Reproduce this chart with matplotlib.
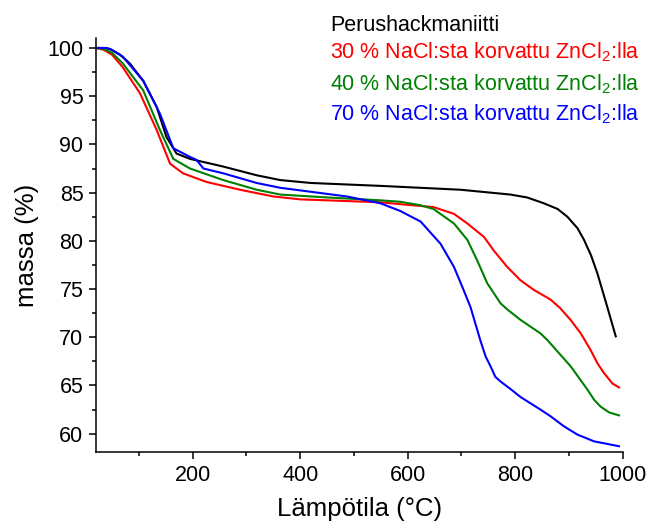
import matplotlib
matplotlib.use("Agg")
import matplotlib.pyplot as plt
from matplotlib.ticker import MultipleLocator

plt.rcParams['font.family'] = ['Liberation Sans', 'DejaVu Sans']
plt.rcParams['mathtext.fontset'] = 'custom'
plt.rcParams['mathtext.rm'] = 'Liberation Sans'
plt.rcParams['mathtext.default'] = 'regular'

# Data (temperature in °C, mass in %)
t_base = [20, 35, 46, 65, 83, 108, 133, 151, 170, 195, 257, 319, 363, 420, 549,
          698, 791, 822, 853, 879, 897, 916, 928, 941, 953, 962, 972, 987]
m_base = [100, 100, 99.9, 99.3, 98.4, 96.6, 93.9, 90.8, 89.05, 88.5, 87.7, 86.8,
          86.3, 86.0, 85.7, 85.3, 84.8, 84.5, 83.9, 83.3, 82.5, 81.3, 80.1, 78.5,
          76.6, 74.9, 73.0, 70.1]

t_30 = [20, 35, 50, 70, 102, 133, 158, 182, 226, 288, 350, 400, 549, 586, 648,
        686, 711, 742, 760, 785, 810, 835, 866, 884, 903, 922, 940, 953, 965, 981, 993]
m_30 = [100, 99.8, 99.3, 98.0, 95.3, 91.5, 88.0, 87.0, 86.1, 85.3, 84.6, 84.3,
        84.0, 83.8, 83.5, 82.8, 81.8, 80.4, 79.0, 77.3, 75.9, 74.9, 73.9, 73.0,
        71.8, 70.4, 68.7, 67.3, 66.3, 65.2, 64.8]

t_40 = [20, 35, 50, 70, 108, 139, 164, 195, 257, 319, 363, 450, 549, 586, 623,
        648, 686, 711, 729, 748, 773, 785, 810, 847, 860, 903, 934, 947, 959, 975, 993]
m_40 = [100, 99.9, 99.5, 98.4, 95.6, 91.5, 88.5, 87.5, 86.3, 85.3, 84.8, 84.5,
        84.2, 84.05, 83.7, 83.3, 81.8, 80.1, 78.0, 75.6, 73.5, 72.9, 71.8, 70.4,
        69.7, 67.0, 64.6, 63.5, 62.8, 62.2, 61.9]

t_70 = [20, 40, 50, 70, 108, 139, 164, 195, 207, 220, 257, 319, 363, 487, 549,
        586, 624, 661, 686, 704, 717, 735, 745, 754, 763, 773, 792, 810, 847, 866,
        891, 916, 947, 966, 993]
m_70 = [100, 100, 99.8, 99.1, 96.6, 93.2, 89.6, 88.7, 88.4, 87.5, 87.0, 86.0,
        85.5, 84.6, 83.9, 83.1, 82.0, 79.7, 77.3, 74.9, 73.1, 69.7, 68.0, 67.0,
        65.9, 65.4, 64.6, 63.8, 62.5, 61.8, 60.75, 59.9, 59.2, 59.0, 58.7]

labels = ["Perushackmaniitti",
          "30 % NaCl:sta korvattu ZnCl$_2$:lla",
          "40 % NaCl:sta korvattu ZnCl$_2$:lla",
          "70 % NaCl:sta korvattu ZnCl$_2$:lla"]
colors = ["#000000", "#FF0000", "#008000", "#0000FF"]

fig = plt.figure(figsize=(6.48, 5.25), dpi=100)
ax = fig.add_axes([0.148, 0.139, 0.813, 0.788])

series = [(t_base, m_base), (t_30, m_30), (t_40, m_40), (t_70, m_70)]
for (t, m), c in zip(series, colors):
    ax.plot(t, m, color=c, lw=1.5, solid_joinstyle='round')

ax.set_xlim(20, 1000)
ax.set_ylim(58.1, 101)
ax.xaxis.set_major_locator(MultipleLocator(200))
ax.xaxis.set_minor_locator(MultipleLocator(100))
ax.yaxis.set_major_locator(MultipleLocator(5))
ax.yaxis.set_minor_locator(MultipleLocator(2.5))
ax.spines['top'].set_visible(False)
ax.spines['right'].set_visible(False)
for s in ('left', 'bottom'):
    ax.spines[s].set_linewidth(1.1)
ax.tick_params(which='major', direction='out', length=5, width=1.1, labelsize=15.5, pad=4)
ax.tick_params(which='minor', direction='out', length=3, width=1.1)

ax.set_xlabel("Lämpötila (°C)", fontsize=18.5, labelpad=8)
ax.set_ylabel("massa (%)", fontsize=18.5, labelpad=6)

ys = [30.7, 58.3, 90, 120]
for lab, c, y in zip(labels, colors, ys):
    fig.text(330 / 648, 1 - y / 525, lab, color=c, fontsize=15.5, ha='left', va='baseline')

fig.savefig("out.png", dpi=100)
